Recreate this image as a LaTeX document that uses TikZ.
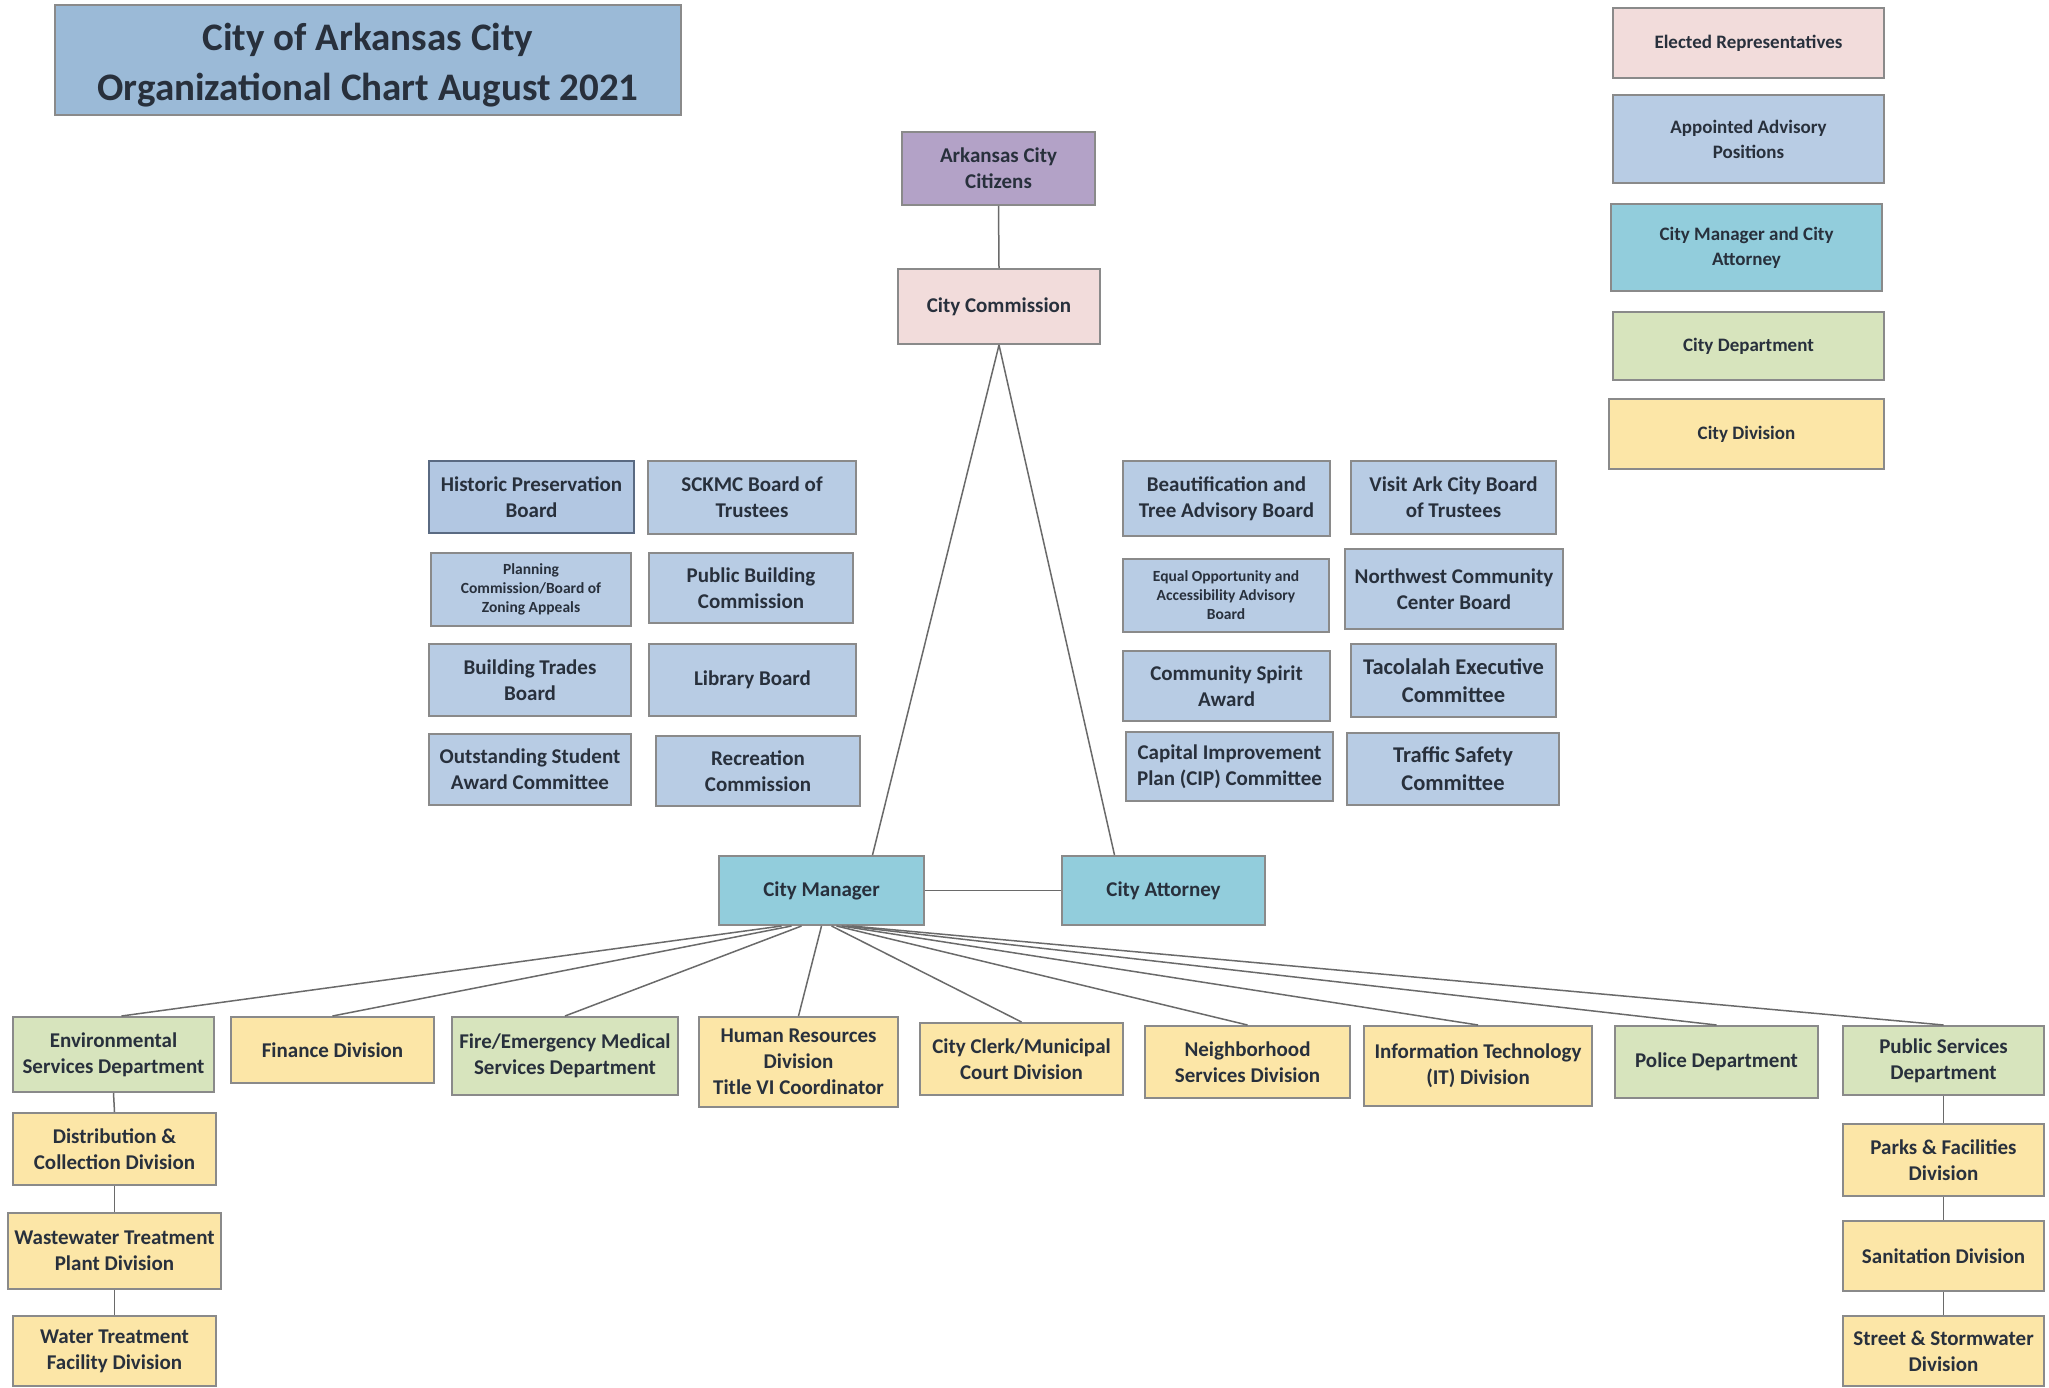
\documentclass[tikz,border=0pt]{standalone}
\usepackage{fontspec}
\setmainfont{Carlito}
\usetikzlibrary{calc}
\definecolor{bordergray}{HTML}{8A8A8A}
\definecolor{linegray}{HTML}{6A6A6A}
\definecolor{txt}{HTML}{28303C}
\definecolor{pinkfill}{HTML}{F2DCDB}
\definecolor{bluefill}{HTML}{B8CCE4}
\definecolor{tealfill}{HTML}{92CDDC}
\definecolor{greenfill}{HTML}{D7E4BD}
\definecolor{yellowfill}{HTML}{FCE6A7}
\definecolor{purplefill}{HTML}{B3A2C7}
\definecolor{titlefill}{HTML}{9BBAD7}
\definecolor{hpbborder}{HTML}{5A6A82}
\definecolor{hpbfill}{HTML}{B2C7E2}
\newcommand\fsz[2]{\fontsize{#1}{#2}\selectfont\bfseries}
\tikzset{
  box/.style={draw=bordergray, line width=2pt, align=center, inner sep=2pt, text=txt, font=\fsz{21}{26}},
  sz/.style 2 args={minimum width=#1, minimum height=#2},
  pinkbox/.style={box, fill=pinkfill},
  bluebox/.style={box, fill=bluefill},
  tealbox/.style={box, fill=tealfill},
  greenbox/.style={box, fill=greenfill},
  yellowbox/.style={box, fill=yellowfill},
  purplebox/.style={box, fill=purplefill},
  smalltext/.style={font=\fsz{15.5}{19}},
  conn/.style={draw=linegray, line width=1.5pt},
}
\begin{document}
\begin{tikzpicture}[x=1pt,y=-1pt]
\fill[white] (0,0) rectangle (2049,1388);
\useasboundingbox (0,0) rectangle (2049,1388);

% title
\node[box, fill=titlefill, sz={626}{110}, font=\fsz{39}{50}] (title) at (368,60) {\raisebox{-5pt}[\height][\depth]{\parbox{600pt}{\centering City of Arkansas City\\Organizational Chart August 2021}}};

% legend
\node[pinkbox, sz={271}{70}, font=\fsz{19}{25}] (lgElected) at (1748.5,43) {Elected Representatives};
\node[bluebox, sz={271}{88}, font=\fsz{19}{25}] (lgAppointed) at (1748.5,139) {Appointed Advisory\\Positions};
\node[tealbox, sz={271}{87}, font=\fsz{19}{25}] (lgManager) at (1746.5,247.5) {City Manager and City\\Attorney};
\node[greenbox, sz={271}{68}, font=\fsz{19}{25}] (lgDept) at (1748.5,346) {City Department};
\node[yellowbox, sz={275}{70}, font=\fsz{19}{25}] (lgDiv) at (1746.5,434) {City Division};

% top chain
\node[purplebox, sz={193}{73}] (citizens) at (998.5,168.5) {Arkansas City\\Citizens};
\node[pinkbox, sz={202}{75}] (commission) at (999,306.5) {City Commission};
\node[tealbox, sz={205}{69}] (cm) at (821.5,890.5) {City Manager};
\node[tealbox, sz={203}{69}] (ca) at (1163.5,890.5) {City Attorney};

% left advisory boards
\node[box, draw=hpbborder, fill=hpbfill, sz={205}{72}] (hpb) at (531.5,497) {Historic Preservation\\Board};
\node[bluebox, sz={208}{73}] (sckmc) at (752,497.5) {SCKMC Board of\\Trustees};
\node[bluebox, sz={200}{73}, smalltext] (planning) at (531,589.5) {Planning\\Commission/Board of\\Zoning Appeals};
\node[bluebox, sz={204}{70}] (pbc) at (751,588) {Public Building\\Commission};
\node[bluebox, sz={202}{72}] (btb) at (530,680) {Building Trades\\Board};
\node[bluebox, sz={207}{72}] (library) at (752.5,680) {Library Board};
\node[bluebox, sz={202}{71}] (osac) at (530,769.5) {Outstanding Student\\Award Committee};
\node[bluebox, sz={204}{70}] (recreation) at (758,771) {Recreation\\Commission};

% right advisory boards
\node[bluebox, sz={207}{75}] (beaut) at (1226.5,498.5) {Beautification and\\Tree Advisory Board};
\node[bluebox, sz={205}{73}] (visit) at (1453.5,497.5) {Visit Ark City Board\\of Trustees};
\node[bluebox, sz={206}{73}, smalltext] (equal) at (1226,595.5) {Equal Opportunity and\\Accessibility Advisory\\Board};
\node[bluebox, sz={218}{80}] (nwcc) at (1454,589) {Northwest Community\\Center Board};
\node[bluebox, sz={207}{70}] (csa) at (1226.5,686) {Community Spirit\\Award};
\node[bluebox, sz={205}{73}, font=\fsz{22.5}{28}] (tacolalah) at (1453.5,680.5) {Tacolalah Executive\\Committee};
\node[bluebox, sz={207}{69}] (cip) at (1229.5,766.5) {Capital Improvement\\Plan (CIP) Committee};
\node[bluebox, sz={212}{72}, font=\fsz{22.5}{28}] (traffic) at (1453,769) {Traffic Safety\\Committee};

% bottom row
\node[greenbox, sz={201}{75}] (env) at (113.5,1054.5) {Environmental\\Services Department};
\node[yellowbox, sz={203}{66}] (finance) at (332.5,1050) {Finance Division};
\node[greenbox, sz={226}{78}] (fire) at (565,1056) {Fire/Emergency Medical\\Services Department};
\node[yellowbox, sz={199}{90}] (hr) at (798.5,1062) {Human Resources\\Division\\Title VI Coordinator};
\node[yellowbox, sz={203}{72}] (clerk) at (1021.5,1059) {City Clerk/Municipal\\Court Division};
\node[yellowbox, sz={205}{72}] (neigh) at (1247.5,1062) {Neighborhood\\Services Division};
\node[yellowbox, sz={228}{80}] (it) at (1478,1066) {Information Technology\\(IT) Division};
\node[greenbox, sz={203}{72}] (police) at (1716.5,1062) {Police Department};
\node[greenbox, sz={201}{69}] (pubserv) at (1943.5,1060.5) {Public Services\\Department};

% env divisions
\node[yellowbox, sz={203}{72}] (dist) at (114.5,1149) {Distribution \&\\Collection Division};
\node[yellowbox, sz={213}{76}] (waste) at (114.5,1251) {Wastewater Treatment\\Plant Division};
\node[yellowbox, sz={203}{70}] (water) at (114.5,1351) {Water Treatment\\Facility Division};

% public services divisions
\node[yellowbox, sz={201}{72}] (parks) at (1943.5,1160) {Parks \& Facilities\\Division};
\node[yellowbox, sz={201}{70}] (sanit) at (1943.5,1256) {Sanitation Division};
\node[yellowbox, sz={201}{70}] (street) at (1943.5,1351) {Street \& Stormwater\\Division};

% connectors
\draw[conn] (citizens.south) -- (commission.north);
\draw[conn] (commission.south) -- ([xshift=51]cm.north);
\draw[conn] (commission.south) -- ([xshift=-49]ca.north);
\draw[conn] (cm.east) -- (ca.west);

\draw[conn] ([xshift=-40]cm.south) -- ([xshift=8]env.north);
\draw[conn] ([xshift=-30]cm.south) -- (finance.north);
\draw[conn] ([xshift=-20]cm.south) -- (fire.north);
\draw[conn] ([xshift=0]cm.south) -- (hr.north);
\draw[conn] ([xshift=10]cm.south) -- (clerk.north);
\draw[conn] ([xshift=15]cm.south) -- (neigh.north);
\draw[conn] ([xshift=20]cm.south) -- (it.north);
\draw[conn] ([xshift=25]cm.south) -- (police.north);
\draw[conn] ([xshift=30]cm.south) -- (pubserv.north);

\draw[conn] (env.south) -- (dist.north);
\draw[conn] (dist.south) -- (waste.north);
\draw[conn] (waste.south) -- (water.north);
\draw[conn] (pubserv.south) -- (parks.north);
\draw[conn] (parks.south) -- (sanit.north);
\draw[conn] (sanit.south) -- (street.north);
\end{tikzpicture}
\end{document}
